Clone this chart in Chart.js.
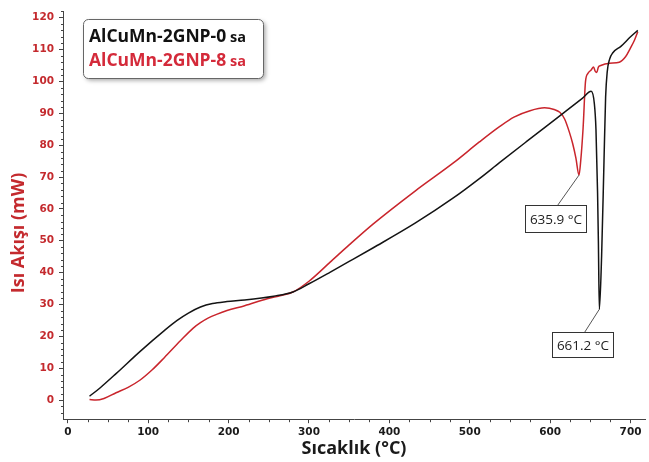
<!DOCTYPE html>
<html>
<head>
<meta charset="utf-8">
<script src="https://cdn.jsdelivr.net/npm/chart.js@4.4.1/dist/chart.umd.min.js"></script>
<style>
  html, body { margin: 0; padding: 0; background: #fff; }
  #dscChart { display: block; }
</style>
</head>
<body>
<canvas id="dscChart" width="649" height="462"></canvas>
<script>
// DSC heat flow traces, temperature (°C) vs heat flow (mW)
const temp0 = [27, 40, 60, 90, 120, 136, 150, 165, 180, 198, 220, 256, 280, 300, 326, 350, 380, 432, 480, 512, 537, 570, 614, 640, 651,
               655, 657, 659, 660, 661.2, 664, 667, 669, 671, 674, 678, 688, 700, 709];
const flow0 = [1.2, 3.8, 8.3, 15.3, 21.8, 25, 27.3, 29.2, 30.3, 30.9, 31.4, 32.6, 33.9, 36.5, 40.1, 43.5, 47.8, 55.5, 63.5, 69.5, 74.5, 81, 89.6, 94.7, 96.9,
               93, 85, 65, 50, 28.5, 45, 75, 95, 103, 107, 109, 111, 114, 116];

const temp8 = [27, 35, 45, 60, 75, 90, 105, 120, 140, 156, 165, 175, 185, 198, 220, 248, 265, 280, 300, 326, 350, 380, 432, 480, 512, 537, 555,
               575, 593, 605, 612, 618, 624, 628, 632, 635.9, 638, 641, 644, 647, 651, 654, 656, 658, 660, 663, 674, 686, 694, 700, 705, 709];
const flow8 = [0.2, 0, 0.5, 2.3, 4, 6.3, 9.5, 13.3, 18.6, 22.6, 24.3, 25.8, 26.9, 28.1, 29.6, 31.8, 32.8, 33.9, 37.3, 43.2, 48.7, 55.3, 65.6, 74.5, 81, 85.8, 88.8,
               90.8, 91.7, 91.2, 90.3, 88.2, 84, 80.5, 76, 70.6, 75, 85.4, 100, 102.5, 103.6, 104.5, 103.2, 102.8, 104.5, 105, 105.7, 106, 107.8, 110.5, 113, 115.6];

const seriesNames = ['AlCuMn-2GNP-0', 'AlCuMn-2GNP-8'];
const xTicks = [0, 100, 200, 300, 400, 500, 600, 700];
const yTicks = [0, 10, 20, 30, 40, 50, 60, 70, 80, 90, 100, 110, 120];

const RED = '#c42a2e';
const AXIS = '#444';

function toPoints(xs, ys) {
  return xs.map((x, i) => ({ x: x, y: ys[i] }));
}

// lowest point after the melting onset, used for the temperature callouts
function meltMin(xs, ys) {
  let best = -1;
  xs.forEach((x, i) => {
    if (x > 600 && (best < 0 || ys[i] < ys[best])) best = i;
  });
  return { x: xs[best], y: ys[best] };
}

const extras = {
  id: 'extras',
  afterDraw(chart) {
    const ctx = chart.ctx;
    const xs = chart.scales.x;
    const ys = chart.scales.y;
    const area = chart.chartArea;

    // minor ticks
    ctx.save();
    ctx.strokeStyle = AXIS;
    ctx.lineWidth = 1;
    ctx.beginPath();
    for (let v = 25; v <= xs.max; v += 25) {
      if (v % 100 === 0) continue;
      const px = Math.round(xs.getPixelForValue(v)) + 0.5;
      ctx.moveTo(px, area.bottom);
      ctx.lineTo(px, area.bottom + 3);
    }
    for (let v = -4; v <= ys.max; v += 2) {
      if (v % 10 === 0) continue;
      const py = Math.round(ys.getPixelForValue(v)) + 0.5;
      ctx.moveTo(area.left - 2, py);
      ctx.lineTo(area.left, py);
    }
    ctx.stroke();
    ctx.restore();

    // y axis title
    ctx.save();
    ctx.translate(19, 233);
    ctx.rotate(-Math.PI / 2);
    ctx.font = 'bold 18px "Open Sans"';
    ctx.fillStyle = RED;
    ctx.textAlign = 'center';
    ctx.textBaseline = 'middle';
    ctx.fillText('Isı Akışı (mW)', 0, 0);
    ctx.restore();

    // legend box
    ctx.save();
    ctx.shadowColor = 'rgba(0,0,0,0.35)';
    ctx.shadowBlur = 4;
    ctx.shadowOffsetX = 2;
    ctx.shadowOffsetY = 2;
    ctx.beginPath();
    ctx.roundRect(83.5, 19.5, 180, 59, 5);
    ctx.fillStyle = '#fff';
    ctx.fill();
    ctx.restore();
    ctx.save();
    ctx.beginPath();
    ctx.roundRect(83.5, 19.5, 180, 59, 5);
    ctx.strokeStyle = '#666';
    ctx.lineWidth = 1;
    ctx.stroke();
    const legendColors = ['#111', '#d42a3a'];
    seriesNames.forEach((name, i) => {
      const baseY = 42 + i * 24;
      ctx.fillStyle = legendColors[i];
      ctx.textBaseline = 'alphabetic';
      ctx.font = 'bold 17.5px "Open Sans"';
      ctx.fillText(name, 89, baseY);
      const w = ctx.measureText(name).width;
      ctx.font = 'bold 14.5px "Open Sans"';
      ctx.fillText(' sa', 89 + w, baseY);
    });
    ctx.restore();

    // callouts at the melting minima
    const callouts = [
      { pt: meltMin(temp8, flow8), dx: -54, dy: 30, h: 27 },
      { pt: meltMin(temp0, flow0), dx: -47, dy: 23, h: 25 }
    ];
    ctx.save();
    callouts.forEach(c => {
      const px = xs.getPixelForValue(c.pt.x);
      const py = ys.getPixelForValue(c.pt.y);
      const left = Math.round(px + c.dx) + 0.5;
      const top = Math.round(py + c.dy) + 0.5;
      const w = 61;
      ctx.strokeStyle = '#555';
      ctx.lineWidth = 1;
      ctx.beginPath();
      ctx.moveTo(left + 32, top);
      ctx.lineTo(px, py);
      ctx.stroke();
      ctx.fillStyle = '#fff';
      ctx.fillRect(left, top, w, c.h);
      ctx.strokeStyle = '#333';
      ctx.strokeRect(left, top, w, c.h);
      ctx.fillStyle = '#222';
      ctx.font = '13.5px "Open Sans"';
      ctx.textAlign = 'center';
      ctx.textBaseline = 'middle';
      ctx.fillText(c.pt.x.toFixed(1) + ' °C', left + w / 2, top + c.h / 2 + 1);
    });
    ctx.restore();
  }
};

const tickFont = { family: '"DejaVu Sans"', size: 10.5, weight: 'bold' };

new Chart(document.getElementById('dscChart').getContext('2d'), {
  type: 'line',
  data: {
    datasets: [
      {
        label: seriesNames[0] + ' sa',
        data: toPoints(temp0, flow0),
        borderColor: '#141414',
        borderWidth: 1.5,
        pointRadius: 0,
        cubicInterpolationMode: 'monotone'
      },
      {
        label: seriesNames[1] + ' sa',
        data: toPoints(temp8, flow8),
        borderColor: '#c9252c',
        borderWidth: 1.5,
        pointRadius: 0,
        cubicInterpolationMode: 'monotone'
      }
    ]
  },
  options: {
    responsive: false,
    animation: false,
    devicePixelRatio: 1,
    layout: { padding: { top: 9.6, right: 4, left: 0, bottom: 0 } },
    plugins: {
      legend: { display: false },
      tooltip: { enabled: false }
    },
    scales: {
      x: {
        type: 'linear',
        min: -6,
        max: 718,
        afterBuildTicks: s => { s.ticks = xTicks.map(v => ({ value: v })); },
        afterFit: s => { s.height = 42.8; },
        ticks: { font: tickFont, color: '#1a1a1a', padding: 3, maxRotation: 0, autoSkip: false },
        grid: { drawOnChartArea: false, tickLength: 4, color: AXIS },
        border: { color: AXIS },
        title: {
          display: true,
          text: 'Sıcaklık (°C)',
          color: '#1a1a1a',
          font: { family: '"Open Sans"', size: 18, weight: 'bold' },
          padding: { top: 0, bottom: 2 }
        }
      },
      y: {
        type: 'linear',
        min: -6,
        max: 122,
        afterBuildTicks: s => { s.ticks = yTicks.map(v => ({ value: v })); },
        afterFit: s => { s.width = 63; },
        ticks: { font: tickFont, color: RED, padding: 5, autoSkip: false },
        grid: { drawOnChartArea: false, tickLength: 4, color: AXIS },
        border: { color: AXIS }
      }
    }
  },
  plugins: [extras]
});
</script>
</body>
</html>
